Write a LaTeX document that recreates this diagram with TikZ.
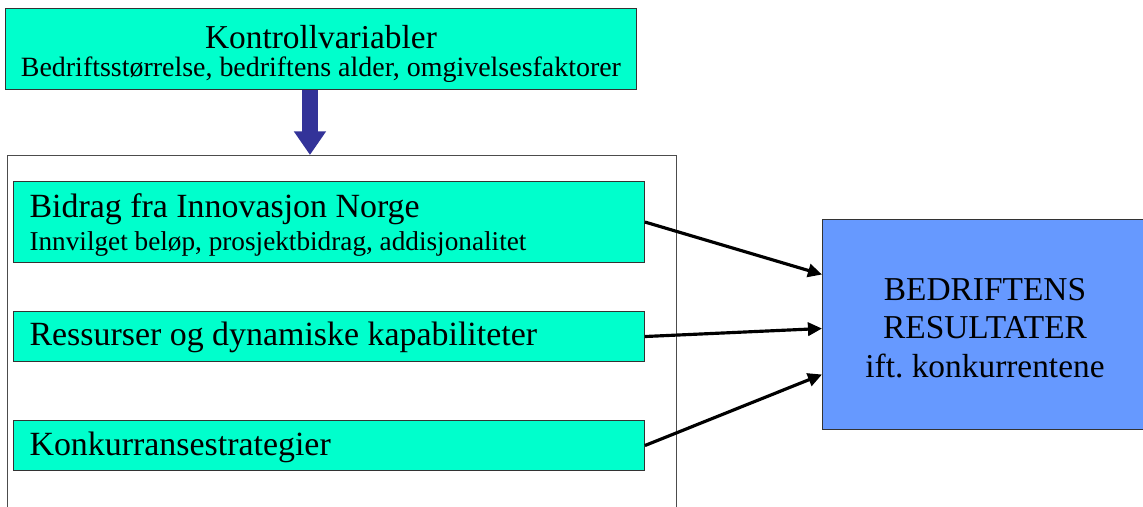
\documentclass[tikz,border=0pt]{standalone}
\usepackage{fontspec}
\setmainfont{Liberation Serif}
\usetikzlibrary{positioning,arrows.meta}
\definecolor{boxcyan}{RGB}{0,255,204}
\definecolor{resblue}{RGB}{102,153,255}
\definecolor{arrowblue}{RGB}{51,51,153}
\tikzset{
  factor/.style={draw=black!80, fill=boxcyan, line width=0.6pt, inner xsep=0.32cm, text width=11.98cm, align=flush left, anchor=north west, font=\fontsize{19.3}{18.5}\selectfont},
  link/.style={line width=1.8pt, -{Triangle[length=8pt,width=7.5pt]}},
}
\begin{document}
\frenchspacing
\begin{tikzpicture}[x=0.02cm,y=-0.02cm]
\useasboundingbox (0,0) rectangle (1143,507);
\clip (0,0) rectangle (1143,507);
\fill[white] (0,0) rectangle (1143,507);
\node[draw=black!80, fill=boxcyan, line width=0.6pt, inner xsep=0.1cm, text width=12.42cm, minimum height=1.62cm, anchor=north west, align=flush center, font=\fontsize{19}{16.2}\selectfont, text height=16pt, text depth=16.85pt] (ctrl) at (5,8) {Kontrollvariabler\\{\fontsize{15.9}{16.2}\selectfont Bedriftsstørrelse, bedriftens alder, omgivelsesfaktorer}};
\node[draw=black!70, line width=0.5pt, minimum width=13.38cm, minimum height=7.2cm, anchor=north west] (frame) at (7,155) {};
\node[factor, minimum height=1.62cm, text height=16pt, text depth=21pt] (bidrag) at (13,181) {Bidrag fra Innovasjon Norge\\{\fontsize{15.5}{18.5}\selectfont Innvilget beløp, prosjektbidrag, addisjonalitet}};
\node[factor, minimum height=1cm, text height=13.5pt, text depth=3pt] (ressurs) at (13,311) {Ressurser og dynamiske kapabiliteter};
\node[factor, minimum height=1cm, text height=13.8pt, text depth=3pt] (strategi) at (13,420) {Konkurransestrategier};
\node[draw=black!80, fill=resblue, line width=0.6pt, inner xsep=0.25cm, text width=6cm, minimum height=4.2cm, anchor=north west, align=flush center, font=\fontsize{19}{21.8}\selectfont, text height=16.4pt, text depth=43.6pt] (result) at (822,219) {BEDRIFTENS\\RESULTATER\\ift. konkurrentene};
\draw[line width=9.5pt, arrowblue, -{Triangle[length=13.5pt,width=17.5pt]}] ([xshift=-0.22cm]ctrl.south) coordinate (drop) -- (drop |- frame.north);
\draw[link] (bidrag.east) -- ([yshift=1cm]result.west);
\draw[link] (ressurs.east) -- ([yshift=-0.08cm]result.west);
\draw[link] (strategi.east) -- ([yshift=-1cm]result.west);
\end{tikzpicture}
\end{document}
